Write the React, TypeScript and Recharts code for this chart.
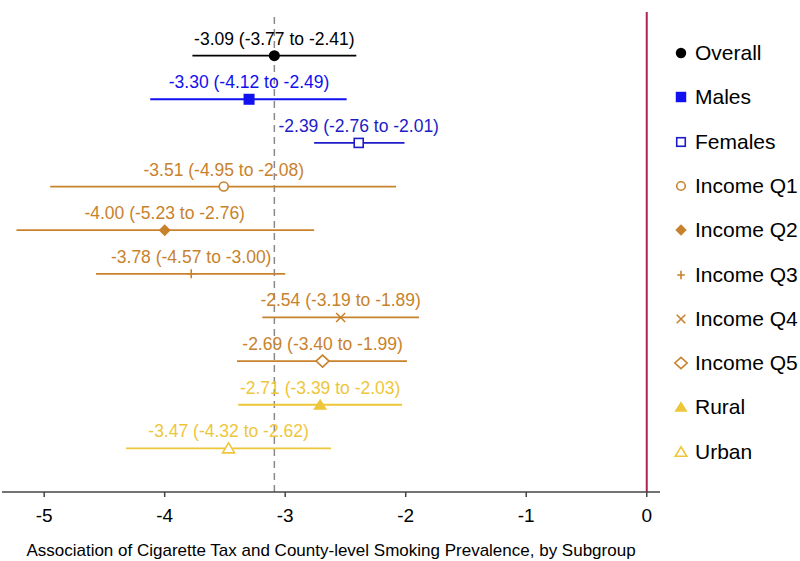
import React from 'react';
import { ComposedChart, Scatter, XAxis, YAxis, ReferenceLine } from 'recharts';

// subgroup data, top to bottom
const groups = ['Overall', 'Males', 'Females', 'Income Q1', 'Income Q2', 'Income Q3', 'Income Q4', 'Income Q5', 'Rural', 'Urban'];
const estimates = [-3.09, -3.3, -2.39, -3.51, -4.0, -3.78, -2.54, -2.69, -2.71, -3.47];
const lowerCI = [-3.77, -4.12, -2.76, -4.95, -5.23, -4.57, -3.19, -3.4, -3.39, -4.32];
const upperCI = [-2.41, -2.49, -2.01, -2.08, -2.76, -3.0, -1.89, -1.99, -2.03, -2.62];
const xTicks = [-5, -4, -3, -2, -1, 0];

const BLACK = '#000000';
const BLUE = '#1010f0';
const NAVY = '#1c1cc8';
const ORANGE = '#c8822c';
const YELLOW = '#eec63a';
const colors = [BLACK, BLUE, NAVY, ORANGE, ORANGE, ORANGE, ORANGE, ORANGE, YELLOW, YELLOW];
const markers = ['circle', 'square', 'squareOpen', 'circleOpen', 'diamond', 'plus', 'cross', 'diamondOpen', 'triangle', 'triangleOpen'];

const fmt = (v: number) => v.toFixed(2);

const rows = groups.map((name, i) => ({
    name,
    y: groups.length - i,
    est: estimates[i],
    lo: lowerCI[i],
    hi: upperCI[i],
    color: colors[i],
    marker: markers[i],
    label: `${fmt(estimates[i])} (${fmt(lowerCI[i])} to ${fmt(upperCI[i])})`,
}));

function Marker({ type, x, y, color, s = 1 }: { type: string; x: number; y: number; color: string; s?: number }) {
    switch (type) {
        case 'circle':
            return <circle cx={x} cy={y} r={5.5 * s} fill={color} />;
        case 'circleOpen':
            return <circle cx={x} cy={y} r={4.5 * s} fill="#fff" stroke={color} strokeWidth={1.6} />;
        case 'square':
            return <rect x={x - 5.5 * s} y={y - 5.5 * s} width={11 * s} height={11 * s} fill={color} />;
        case 'squareOpen':
            return <rect x={x - 4.5 * s} y={y - 4.5 * s} width={9 * s} height={9 * s} fill="#fff" stroke={color} strokeWidth={1.6} />;
        case 'diamond':
            return <path d={`M${x},${y - 6 * s}L${x + 6 * s},${y}L${x},${y + 6 * s}L${x - 6 * s},${y}Z`} fill={color} />;
        case 'diamondOpen':
            return <path d={`M${x},${y - 6 * s}L${x + 6.5 * s},${y}L${x},${y + 6 * s}L${x - 6.5 * s},${y}Z`} fill="#fff" stroke={color} strokeWidth={1.6} />;
        case 'plus':
            return <path d={`M${x - 4 * s},${y}H${x + 4 * s}M${x},${y - 4.5 * s}V${y + 4.5 * s}`} stroke={color} strokeWidth={1.6} />;
        case 'cross':
            return <path d={`M${x - 4.5 * s},${y - 4.5 * s}L${x + 4.5 * s},${y + 4.5 * s}M${x + 4.5 * s},${y - 4.5 * s}L${x - 4.5 * s},${y + 4.5 * s}`} stroke={color} strokeWidth={1.6} />;
        case 'triangle':
            return <path d={`M${x},${y - 6 * s}L${x + 7 * s},${y + 5 * s}L${x - 7 * s},${y + 5 * s}Z`} fill={color} />;
        case 'triangleOpen':
            return <path d={`M${x},${y - 5.5 * s}L${x + 6 * s},${y + 4.5 * s}L${x - 6 * s},${y + 4.5 * s}Z`} fill="#fff" stroke={color} strokeWidth={1.6} />;
        default:
            return null;
    }
}

function PointShape(props: any) {
    const { cx, cy, payload } = props;
    if (cx == null || cy == null) return null;
    return (
        <g>
            <text x={cx} y={cy - 11} textAnchor="middle" fontSize={17.5} fill={payload.color}>
                {payload.label}
            </text>
            <Marker type={payload.marker} x={cx} y={cy} color={payload.color} />
        </g>
    );
}

function LegendList() {
    return (
        <div style={{ position: 'absolute', left: 672, top: 41, width: 128 }}>
            {rows.map((r, i) => (
                <div key={r.name} style={{ position: 'absolute', left: 0, top: i * 44.3, height: 24, display: 'flex', alignItems: 'center' }}>
                    <svg width={20} height={20} style={{ marginRight: 3 }}>
                        <Marker type={r.marker} x={9} y={10} color={r.color} s={0.95} />
                    </svg>
                    <span style={{ fontSize: 21, color: '#000', whiteSpace: 'nowrap' }}>{r.name}</span>
                </div>
            ))}
        </div>
    );
}

export default function App() {
    return (
        <div style={{ position: 'absolute', left: 0, top: 0, width: 800, height: 561, background: '#fff', fontFamily: 'Liberation Sans, Arial, sans-serif' }}>
            <ComposedChart width={800} height={561} margin={{ top: 12, right: 140, left: 2, bottom: 39 }}>
                <XAxis
                    type="number"
                    dataKey="x"
                    domain={[-5.35, 0.11]}
                    ticks={xTicks}
                    allowDataOverflow
                    height={30}
                    tickSize={5}
                    tickMargin={12}
                    tick={{ fontSize: 19, fill: '#000' }}
                    axisLine={{ stroke: '#444', strokeWidth: 1.5 }}
                    tickLine={{ stroke: '#444', strokeWidth: 1.5 }}
                    label={{ value: 'Association of Cigarette Tax and County-level Smoking Prevalence, by Subgroup', position: 'bottom', offset: 22, fontSize: 17, fill: '#000' }}
                />
                <YAxis type="number" dataKey="y" domain={[0, 11]} hide allowDataOverflow />
                <ReferenceLine x={-3.09} stroke="#8a8a8a" strokeWidth={1.5} strokeDasharray="7 5" />
                <ReferenceLine x={0} stroke="#ac2458" strokeWidth={2} />
                {rows.map((r) => (
                    <Scatter
                        key={`ci-${r.name}`}
                        data={[{ x: r.lo, y: r.y }, { x: r.hi, y: r.y }]}
                        line={{ stroke: r.color, strokeWidth: 1.8 }}
                        shape={() => null}
                        legendType="none"
                        isAnimationActive={false}
                    />
                ))}
                {rows.map((r) => (
                    <Scatter
                        key={`pt-${r.name}`}
                        name={r.name}
                        data={[{ x: r.est, y: r.y, ...r }]}
                        fill={r.color}
                        shape={<PointShape />}
                        isAnimationActive={false}
                    />
                ))}
            </ComposedChart>
            <LegendList />
        </div>
    );
}
